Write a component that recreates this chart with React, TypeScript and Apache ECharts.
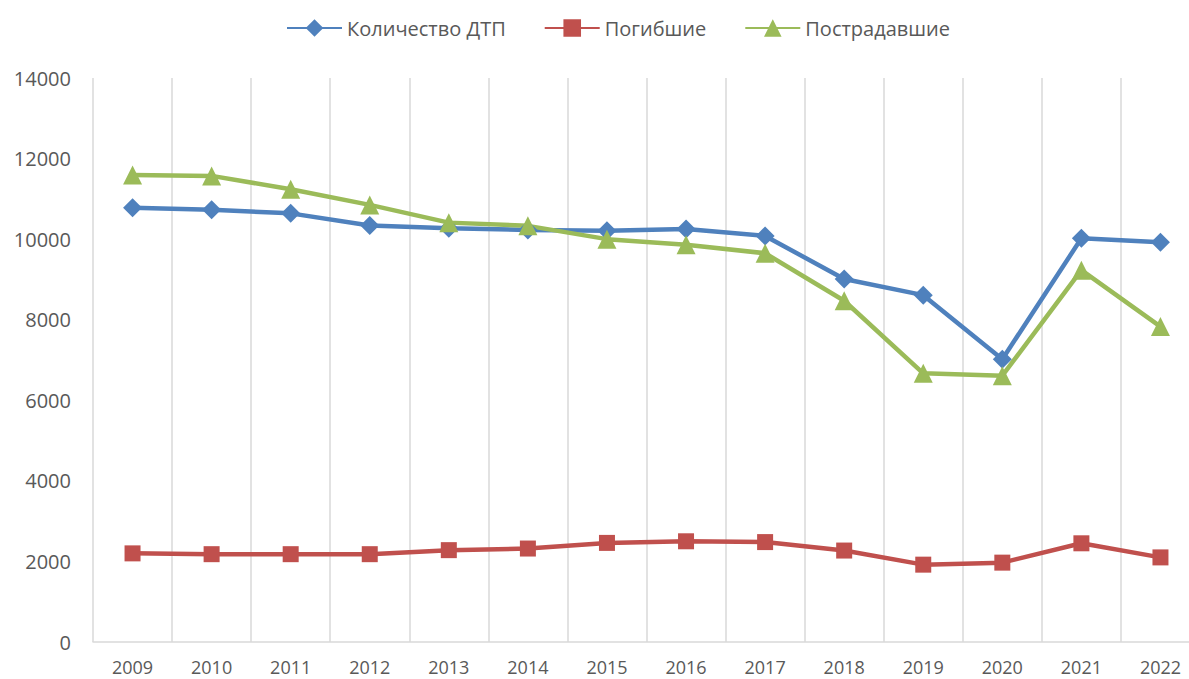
import React, { useEffect, useRef } from "react";
import * as echarts from "echarts";

const years = ["2009", "2010", "2011", "2012", "2013", "2014", "2015", "2016", "2017", "2018", "2019", "2020", "2021", "2022"];
const accidents = [10780, 10730, 10640, 10340, 10270, 10230, 10210, 10250, 10080, 9010, 8610, 7020, 10020, 9920];
const killed = [2200, 2180, 2180, 2180, 2280, 2320, 2460, 2500, 2480, 2270, 1920, 1970, 2450, 2100];
const injured = [11590, 11570, 11240, 10850, 10410, 10330, 10000, 9860, 9650, 8470, 6670, 6610, 9230, 7830];
const seriesNames = ["Количество ДТП", "Погибшие", "Пострадавшие"];

const FONT = "'Open Sans', 'Noto Sans', sans-serif";
const GRID = "#D9D9D9";
const TEXT = "#595959";

export default function App() {
  const ref = useRef<HTMLDivElement>(null);
  useEffect(() => {
    document.documentElement.style.overflow = "hidden";
    document.body.style.overflow = "hidden";
    if (!ref.current) return;
    const chart = echarts.init(ref.current, undefined, { renderer: "svg" });
    const mk = (name: string, data: number[], color: string, symbol: string, size: number) => ({
      name,
      type: "line",
      data,
      symbol,
      symbolSize: size,
      showSymbol: true,
      lineStyle: { color, width: 4.5 },
      itemStyle: { color },
      emphasis: { disabled: true },
    });
    chart.setOption({
      animation: false,
      textStyle: { fontFamily: FONT },
      legend: {
        top: 13,
        left: 281,
        itemWidth: 55,
        itemHeight: 22,
        itemGap: 38,
        textStyle: { fontSize: 20, color: TEXT, fontFamily: FONT },
        data: seriesNames,
      },
      grid: { left: 93, right: 0, top: 78, bottom: 37 },
      xAxis: {
        type: "category",
        data: years,
        boundaryGap: true,
        axisLine: { show: true, lineStyle: { color: GRID, width: 1.5 } },
        axisTick: { show: false },
        splitLine: { show: true, lineStyle: { color: GRID, width: 1.5 } },
        axisLabel: { color: TEXT, fontSize: 18, margin: 16, fontFamily: FONT },
      },
      yAxis: {
        type: "value",
        min: 0,
        max: 14000,
        interval: 2000,
        axisLine: { show: false },
        axisTick: { show: false },
        splitLine: { show: false },
        axisLabel: {
          color: TEXT,
          fontSize: 20,
          margin: 22,
          fontFamily: FONT,
          formatter: (v: number) => String(v),
        },
      },
      series: [
        mk(seriesNames[0], accidents, "#4F81BD", "diamond", 19),
        mk(seriesNames[1], killed, "#C0504D", "rect", 16),
        mk(seriesNames[2], injured, "#9BBB59", "triangle", 19),
      ],
    });
    return () => chart.dispose();
  }, []);
  return (
    <div
      ref={ref}
      style={{ position: "absolute", left: 0, top: 0, width: 1200, height: 679, background: "#fff" }}
    />
  );
}
